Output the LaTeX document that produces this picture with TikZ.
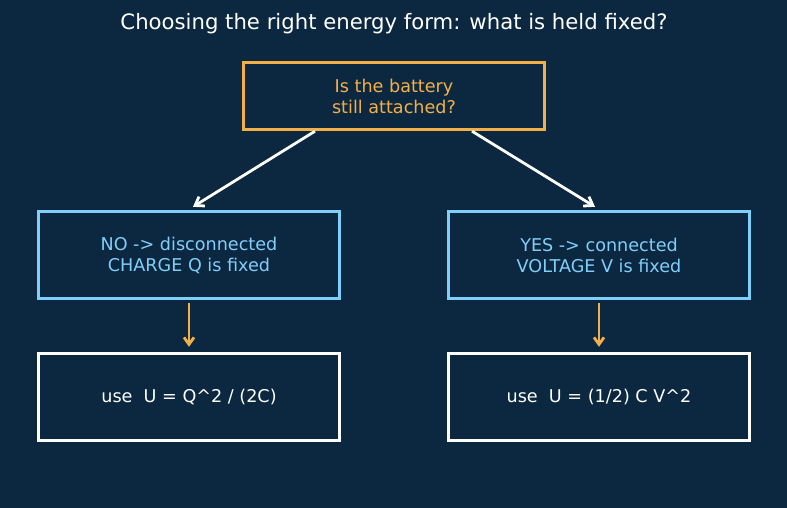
\documentclass[tikz,border=0pt]{standalone}
\usepackage{fontspec}
\setmainfont{DejaVu Sans}
\usepackage{tikz}
\usetikzlibrary{arrows.meta,positioning}
\definecolor{bgnavy}{RGB}{11,40,64}
\definecolor{qorange}{RGB}{244,176,72}
\definecolor{qblue}{RGB}{128,206,250}

\begin{document}
\begin{tikzpicture}[x=1pt, y=-1pt, line join=miter,
  box/.style={rectangle, draw, line width=3.4pt, minimum width=301pt, align=center, inner sep=0pt,
    font=\fontsize{17.6}{21}\selectfont},
  branch/.style={-{Straight Barb[length=8pt,width=11pt,line width=2.8pt]}, white, line width=2.8pt},
  down/.style={-{Straight Barb[length=7pt,width=10pt,line width=2.8pt]}, qorange, line width=2.8pt}]
   \fill[bgnavy] (0,0) rectangle (787,508);
   \node[white, font=\fontsize{21.2}{25}\selectfont] (title) at (394,24) {Choosing the right energy form: what is held fixed?};
   \node[box, draw=qorange, text=qorange, minimum height=67pt] (ask) at (394,96) {Is the battery\\still attached?};
   \begin{scope}[every node/.style={box, minimum height=87pt}]
    \node[draw=qblue, text=qblue] (nocon) at (189,255) {NO -> disconnected\\CHARGE Q is fixed};
    \node[draw=qblue, text=qblue] (yescon) at (599,255) {YES -> connected\\VOLTAGE V is fixed};
    \node[draw=white, text=white] (useq) at (189,397) {use\ \ U = Q\^{}2 / (2C)};
    \node[draw=white, text=white] (usev) at (599,397) {use\ \ U = (1/2) C V\^{}2};
   \end{scope}
   \draw[branch] ([xshift=-79pt]ask.south) -- ([xshift=4pt, yshift=3pt]nocon.north);
   \draw[branch] ([xshift=78pt]ask.south) -- ([xshift=-4pt, yshift=3pt]yescon.north);
   \draw[down] ([yshift=-3pt]nocon.south) -- ([yshift=5pt]useq.north);
   \draw[down] ([yshift=-3pt]yescon.south) -- ([yshift=5pt]usev.north);
\end{tikzpicture}
\end{document}
